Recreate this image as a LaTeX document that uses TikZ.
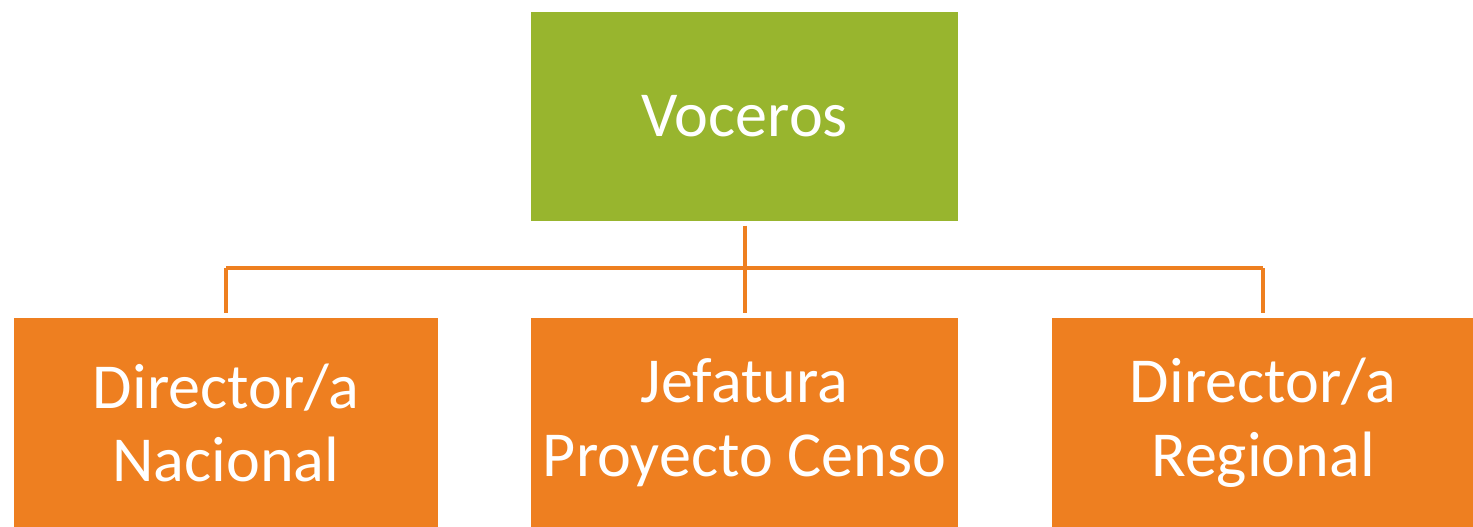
\documentclass[tikz,border=0pt]{standalone}
\usepackage{fontspec}
\setmainfont{Carlito}
\definecolor{boxgreen}{HTML}{98B52E}
\definecolor{boxorange}{HTML}{EE7F20}
\begin{document}
\begin{tikzpicture}[x=0.02cm,y=-0.02cm,
  box/.style={draw=white, line width=0.6pt, inner sep=0pt, text=white, align=center,
    font=\fontsize{36.5}{42}\selectfont},
  link/.style={draw=boxorange, line width=1.8pt}]
\useasboundingbox (0,0) rectangle (1473,527);
\node[box, fill=boxgreen, minimum width=428*0.02cm, minimum height=211*0.02cm] (top) at (744.5,116.5) {Voceros};
\node[box, fill=boxorange, minimum width=426*0.02cm, minimum height=211*0.02cm] (nac) at (226,423) {Director/a\\Nacional};
\node[box, fill=boxorange, minimum width=428*0.02cm, minimum height=211*0.02cm] (jef) at (744.5,423) {Jefatura\\Proyecto Censo};
\node[box, fill=boxorange, minimum width=424*0.02cm, minimum height=211*0.02cm] (reg) at (1263,423) {Director/a\\Regional};
\coordinate (hub) at (745,268);
\draw[link] ([yshift=-0.06cm]top.south -| hub) -- (hub);
\draw[link] (nac.north |- hub) -- ([yshift=0.08cm]nac.north);
\draw[link] (reg.north |- hub) -- ([yshift=0.08cm]reg.north);
\draw[link] (nac.north |- hub) -- (reg.north |- hub);
\draw[link] (hub) -- ([yshift=0.08cm]jef.north -| hub);
\end{tikzpicture}
\end{document}
